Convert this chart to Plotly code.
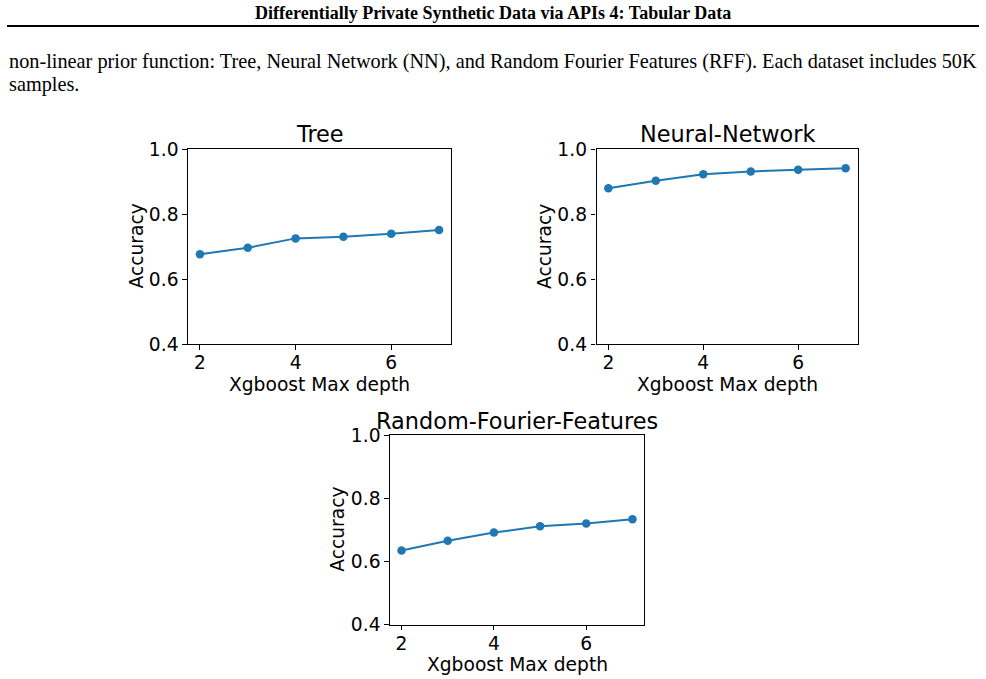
import plotly.graph_objects as go

depths = [2, 3, 4, 5, 6, 7]
tree_acc = [0.676, 0.696, 0.725, 0.730, 0.739, 0.751]
nn_acc = [0.879, 0.902, 0.922, 0.931, 0.936, 0.941]
rff_acc = [0.634, 0.665, 0.691, 0.711, 0.720, 0.733]
titles = ["Tree", "Neural-Network", "Random-Fourier-Features"]
x_label = "Xgboost Max depth"
y_label = "Accuracy"
y_ticks = [0.4, 0.6, 0.8, 1.0]
x_ticks = [2, 4, 6]
header = "Differentially Private Synthetic Data via APIs 4: Tabular Data"
para_lines = [
    "non-linear prior function: Tree, Neural Network (NN), and Random Fourier Features (RFF). Each dataset includes 50K",
    "samples.",
]

W, H = 986, 679
BLUE = "#1f77b4"
SANS = "DejaVu Sans"
SERIF = "Liberation Serif"

def px(x):
    return x / W

def py(y):
    return 1 - y / H

# panel boxes in pixels: left, right, top, bottom, title centre offset
boxes = [
    (188, 451, 149, 344, 15),
    (596.5, 857.5, 149, 344, 15),
    (390, 644, 435, 624.5, 14),
]
series = [tree_acc, nn_acc, rff_acc]

fig = go.Figure()
annotations = []
for i, (box, ys, title) in enumerate(zip(boxes, series, titles)):
    l, r, t, b, toff = box
    sfx = "" if i == 0 else str(i + 1)
    fig.add_trace(go.Scatter(
        x=depths, y=ys, mode="lines+markers",
        line=dict(color=BLUE, width=2),
        marker=dict(color=BLUE, size=8.5),
        xaxis="x" + sfx, yaxis="y" + sfx, showlegend=False,
    ))
    axcommon = dict(
        showgrid=False, zeroline=False, showline=True, mirror=True,
        linecolor="black", linewidth=1.1, ticks="outside", ticklen=4.7,
        tickwidth=1.1, tickcolor="black", automargin=False,
        tickfont=dict(family=SANS, size=18.67, color="black"),
    )
    fig.update_layout(**{
        "xaxis" + sfx: dict(domain=[px(l), px(r)], range=[1.75, 7.25],
                            tickvals=x_ticks, anchor="y" + sfx,
                            ticklabelstandoff=-3, **axcommon),
        "yaxis" + sfx: dict(domain=[py(b), py(t)], range=[0.4, 1.0],
                            tickvals=y_ticks, tickformat=".1f",
                            anchor="x" + sfx, **axcommon),
    })
    cx = (l + r) / 2
    cy = (t + b) / 2
    annotations.append(dict(text=title, x=px(cx), y=py(t - toff), xref="paper", yref="paper",
                            xanchor="center", yanchor="middle", showarrow=False,
                            font=dict(family=SANS, size=22.4, color="black")))
    annotations.append(dict(text=x_label, x=px(cx), y=py(b + 40), xref="paper", yref="paper",
                            xanchor="center", yanchor="middle", showarrow=False,
                            font=dict(family=SANS, size=18.67, color="black")))
    annotations.append(dict(text=y_label, x=px(l - 52), y=py(cy), xref="paper", yref="paper",
                            xanchor="center", yanchor="middle", showarrow=False, textangle=-90,
                            font=dict(family=SANS, size=18.67, color="black")))

annotations.append(dict(text="<b>" + header + "</b>", x=0.5, y=py(13), xref="paper", yref="paper",
                        xanchor="center", yanchor="middle", showarrow=False,
                        font=dict(family=SERIF, size=18, color="black")))
for j, line in enumerate(para_lines):
    annotations.append(dict(text=line, x=px(7), y=py(61 + 23 * j), xref="paper", yref="paper",
                            xanchor="left", yanchor="middle", showarrow=False,
                            font=dict(family=SERIF, size=20.3, color="black")))

fig.update_layout(
    width=W, height=H, margin=dict(l=0, r=0, t=0, b=0, autoexpand=False),
    paper_bgcolor="white", plot_bgcolor="white",
    annotations=annotations,
    shapes=[dict(type="line", xref="paper", yref="paper", x0=px(7), x1=px(979),
                 y0=py(26), y1=py(26), line=dict(color="black", width=2))],
)

fig.write_html("out.html")
